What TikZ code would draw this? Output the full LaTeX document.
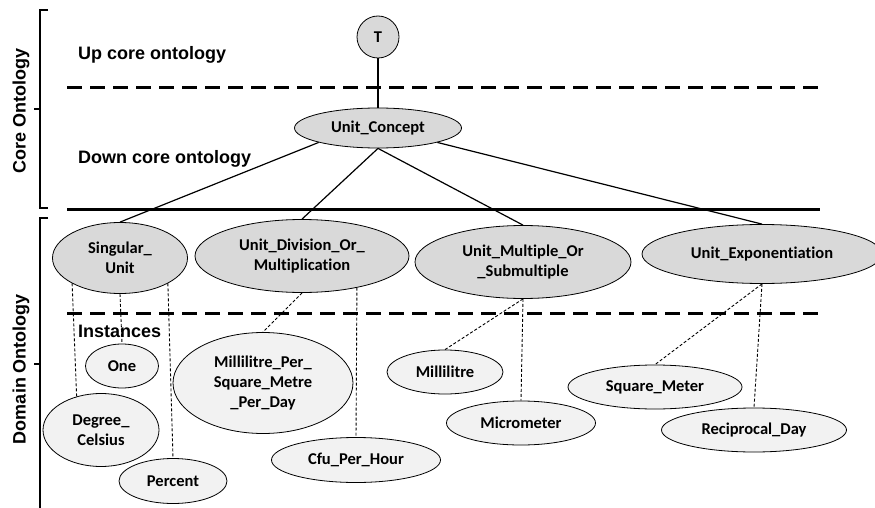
\documentclass[tikz,border=0pt]{standalone}
\usepackage{fontspec}
\setmainfont{Carlito}[Ligatures={NoCommon,NoDiscretionary,NoContextual}]
\newfontfamily\arialfont{Liberation Sans}
\usetikzlibrary{shapes.geometric}

\tikzset{
  concept/.style={ellipse, draw, fill=gray!30, line width=0.8pt, inner sep=1pt,
    align=center, font=\fontsize{16.5}{19.8}\selectfont\bfseries},
  instance/.style={concept, fill=gray!10},
  layer/.style={font=\arialfont\fontsize{18}{21.6}\selectfont\bfseries, inner sep=0pt},
  link/.style={line width=1.2pt},
  member/.style={line width=0.9pt, dash pattern=on 3pt off 2pt},
  border/.style={line width=3pt},
  level/.style={line width=3pt, dash pattern=on 15pt off 8pt},
  brace/.style={line width=2.5pt}
}

\begin{document}
\begin{tikzpicture}[x=1pt, y=-1pt]
    \useasboundingbox (0,0) rectangle (875,508);

    \draw[brace] (48,10) -- (40,10) -- (40,208) -- (48,208);
    \draw[brace] (40,109) -- (34,109);
    \draw[brace] (48,218) -- (40,218) -- (40,510);
    \draw[brace] (40,364) -- (34,364);
    \node[layer, rotate=90] (core) at (21,111) {Core Ontology};
    \node[layer, rotate=90] (dom) at (21,369) {Domain Ontology};

    \draw[level] (67,88) -- (820,88);
    \draw[border] (67,209) -- (820,209);
    \draw[level] (67,313) -- (824,313);

    \node[layer, anchor=base west] (up) at (78,60) {Up core ontology};
    \node[layer, anchor=base west] (down) at (78,164) {Down core ontology};
    \node[layer, anchor=base west] (inst) at (78,337) {Instances};

    \node[concept, circle, minimum size=42pt] (top) at (378,37) {T};
    \node[concept, minimum width=167pt, minimum height=40pt] (uc) at (378,128) {Unit\_Concept};
    \node[concept, minimum width=135pt, minimum height=71pt] (su) at (120,258) {Singular\_\\Unit};
    \node[concept, minimum width=214pt, minimum height=73pt] (div) at (302,256) {Unit\_Division\_Or\_\\Multiplication};
    \node[concept, minimum width=216pt, minimum height=73pt] (mul) at (523,262) {Unit\_Multiple\_Or\\\_Submultiple};
    \node[concept, minimum width=240pt, minimum height=59pt] (exp) at (762,254) {Unit\_Exponentiation};

    \node[instance, minimum width=73pt, minimum height=44pt] (one) at (122,366) {One};
    \node[instance, minimum width=116pt, minimum height=73pt] (dc) at (101,430) {Degree\_\\Celsius};
    \node[instance, minimum width=108pt, minimum height=45pt] (pc) at (173,481) {Percent};
    \node[instance, minimum width=180pt, minimum height=101pt] (mpd) at (263,383) {Millilitre\_Per\_\\Square\_Metre\\\_Per\_Day};
    \node[instance, minimum width=169pt, minimum height=45pt] (cfu) at (356,460) {Cfu\_Per\_Hour};
    \node[instance, minimum width=116pt, minimum height=44pt] (ml) at (445,372) {Millilitre};
    \node[instance, minimum width=149pt, minimum height=44pt] (mic) at (521,423) {Micrometer};
    \node[instance, minimum width=174pt, minimum height=44pt] (sq) at (655,387) {Square\_Meter};
    \node[instance, minimum width=185pt, minimum height=44pt] (rd) at (754,430) {Reciprocal\_Day};

    \draw[link] (uc.north) -- (top);
    \draw[link] (uc.south west) -- (su.north);
    \draw[link] (uc.south) -- (div.north);
    \draw[link] (uc.south) -- (mul.north);
    \draw[link] (uc.south east) -- (exp.north);

    \draw[member] (su.208) -- (dc.126);
    \draw[member] (su.south) -- (one.north);
    \draw[member] (su.332) -- (pc.north);
    \draw[member] (div.south) -- (mpd.north);
    \draw[member] (div.330) -- (cfu.north);
    \draw[member] (mul.south) -- (ml.north);
    \draw[member] (mul.south) -- (mic.north);
    \draw[member] (exp.south) -- (sq.north);
    \draw[member] (exp.south) -- (rd.north);
\end{tikzpicture}
\end{document}
